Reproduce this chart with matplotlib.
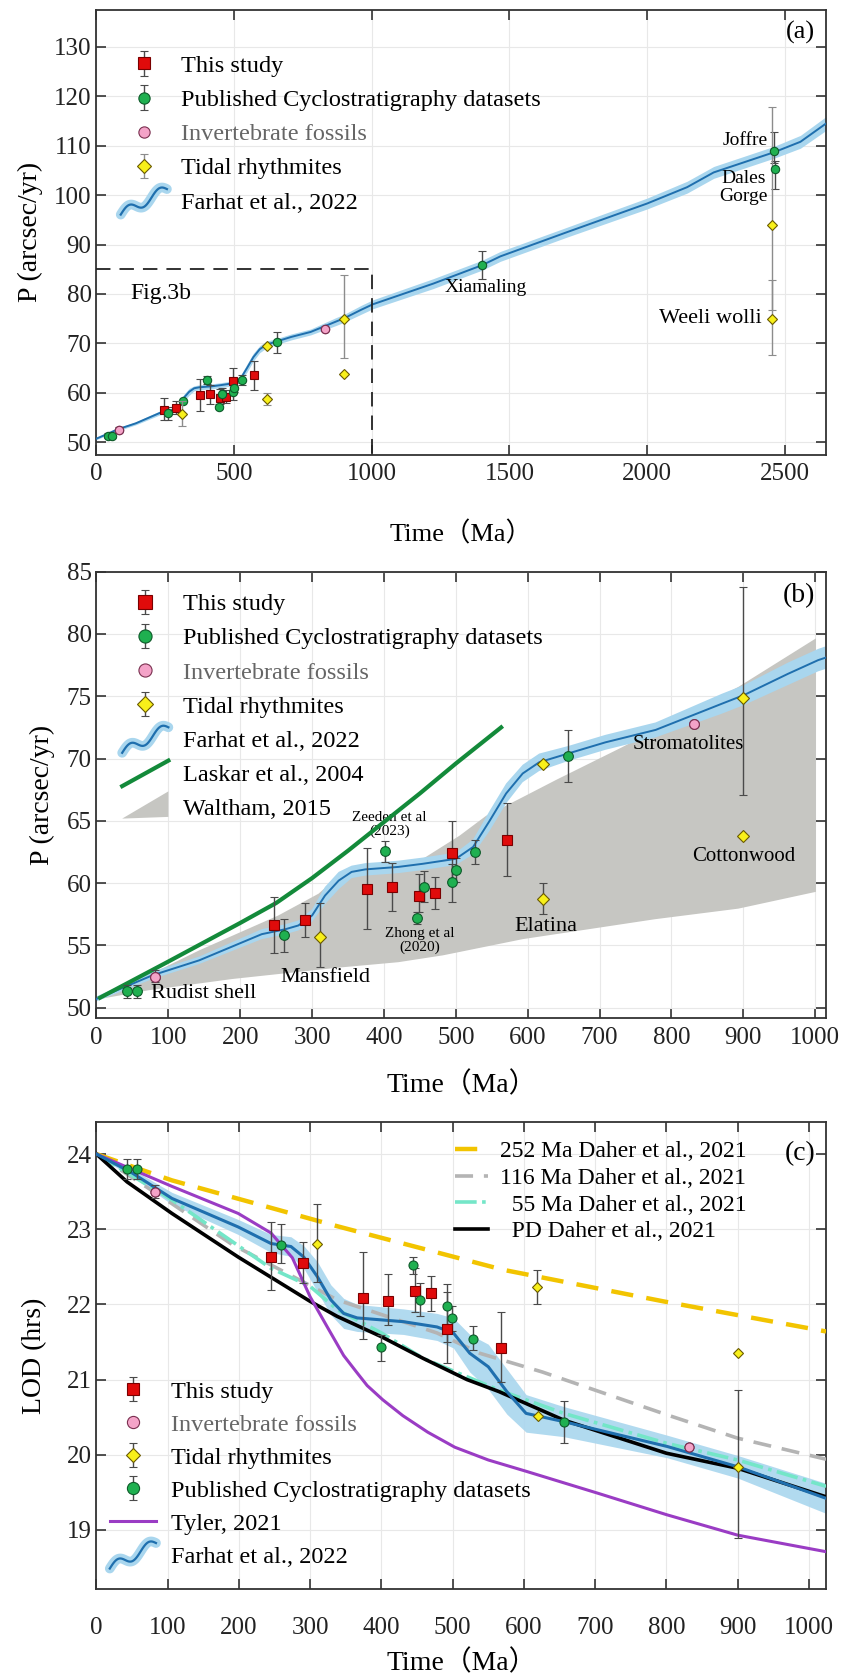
import numpy as np
import matplotlib
matplotlib.use('Agg')
import matplotlib.pyplot as plt
from matplotlib.lines import Line2D
from matplotlib.patches import Polygon
from matplotlib.legend_handler import HandlerBase

plt.rcParams['font.family'] = ['Liberation Serif', 'Noto Sans CJK SC']
plt.rcParams['axes.unicode_minus'] = False
nan = np.nan

# ---------------- precession constant P (arcsec/yr) ----------------
red_t = [246.5, 290.4, 376.6, 411, 449, 471, 494.5, 571]
red_p = [56.6, 57.0, 59.5, 59.7, 59.0, 59.2, 62.45, 63.5]
red_lo = [54.4, 55.7, 56.3, 57.8, 57.7, 57.9, 59.9, 60.6]
red_hi = [58.9, 58.4, 62.8, 61.6, 60.7, 60.5, 65.0, 66.4]

grn_t = [42.5, 56, 260.4, 402, 445.5, 456, 494.5, 500.9, 527, 656, 1402, 2462, 2466]
grn_p = [51.3, 51.3, 55.85, 62.55, 57.2, 59.7, 60.1, 61.05, 62.5, 70.2, 85.9, 108.9, 105.3]
grn_lo = [50.8, 50.8, 54.5, 61.7, 56.75, 58.5, 58.5, 60.1, 61.5, 68.1, 83.1, 106.6, 101.3]
grn_hi = [51.8, 51.8, 57.1, 63.4, 57.7, 61.0, 61.55, 62.0, 63.5, 72.3, 88.7, 112.8, 106.9]
grn_a_t = [315]      # only visible in panel (a)
grn_a_p = [58.3]

pink_t = [81, 831.5]
pink_p = [52.5, 72.8]
pink_lo = [52.1, nan]
pink_hi = [53.0, nan]

yel_t = [311, 621, 621, 900, 900, 2454, 2454]
yel_p = [55.7, 69.55, 58.75, 74.9, 63.8, 93.9, 75.0]
yel_lo = [53.25, nan, 57.5, 67.1, nan, 76.7, 67.7]
yel_hi = [58.4, nan, 60.0, 83.8, nan, 117.8, 82.75]

farhat_t = [0, 78, 143, 230, 263, 281, 300, 318, 337, 355, 374, 420, 454, 500, 524, 547,
            570, 593, 616, 656, 708, 778, 824, 870, 901, 962, 1004, 1224, 1400, 1467, 1709,
            2000, 2145, 2242, 2462, 2557, 2650]
farhat_p = [50.7, 52.6, 53.8, 55.9, 56.3, 56.6, 57.4, 59.0, 60.2, 60.9, 61.1, 61.3, 61.55, 61.95,
            62.9, 65.0, 67.2, 68.8, 69.7, 70.4, 71.3, 72.3, 73.35, 74.4, 75.1, 76.8, 77.9, 82.1,
            85.8, 87.6, 92.5, 98.3, 101.6, 104.6, 108.7, 110.8, 114.5]
farhat_err = [0.2, 0.3, 0.3, 0.4, 0.4, 0.4, 0.5, 0.7, 0.7, 0.5, 0.5, 0.5, 0.5, 0.5, 0.6, 0.8,
              0.8, 0.7, 0.7, 0.6, 0.6, 0.6, 0.7, 0.8, 0.8, 0.9, 0.9, 1.0, 1.0, 1.0, 1.0,
              1.1, 1.2, 1.2, 1.2, 1.3, 1.4]

laskar_t = [5, 100, 200, 250, 300, 350, 400, 450, 500, 563]
laskar_p = [50.8, 53.7, 56.8, 58.4, 60.4, 62.6, 64.9, 67.2, 69.6, 72.5]

walt_up_t = [5, 143, 253, 309, 337, 374, 420, 450, 505, 542, 593, 640, 731, 893, 1001]
walt_up_p = [50.7, 54.6, 57.4, 59.15, 60.6, 60.9, 61.3, 61.8, 63.8, 65.4, 66.9, 68.3, 70.9, 75.75, 79.65]
walt_lo_t = [5, 73, 189, 334, 420, 482, 593, 777, 893, 1001]
walt_lo_p = [50.7, 51.4, 52.3, 53.2, 53.65, 54.2, 55.5, 57.1, 57.95, 59.3]

# ---------------- length of day (hrs) ----------------
red_lod_t = [245, 290, 374, 409, 447, 469, 492, 568]
red_lod = [22.63, 22.55, 22.09, 22.05, 22.18, 22.15, 21.67, 21.42]
red_lod_lo = [22.19, 22.29, 21.54, 21.72, 21.90, 21.91, 21.22, 20.97]
red_lod_hi = [23.09, 22.83, 22.70, 22.40, 22.48, 22.38, 22.17, 21.90]

grn_lod_t = [43, 57, 259, 399.5, 444, 454, 491.5, 499, 528, 656]
grn_lod = [23.80, 23.80, 22.79, 21.43, 22.53, 22.06, 21.98, 21.82, 21.54, 20.43]
grn_lod_lo = [23.67, 23.67, 22.55, 21.25, 22.41, 21.84, 21.50, 21.64, 21.39, 20.15]
grn_lod_hi = [23.93, 23.93, 23.07, 21.59, 22.63, 22.29, 22.27, 21.98, 21.71, 20.72]

pink_lod_t = [82, 831]
pink_lod = [23.50, 20.10]
pink_lod_lo = [23.41, nan]
pink_lod_hi = [23.59, nan]

yel_lod_t = [309, 618, 620, 900, 900]
yel_lod = [22.81, 22.23, 20.52, 19.84, 21.36]
yel_lod_lo = [22.30, 22.00, nan, 18.89, nan]
yel_lod_hi = [23.34, 22.46, nan, 20.86, nan]

flod_t = [0, 50, 106, 199, 245, 273, 291, 310, 329, 347, 366, 431, 478, 501, 524, 550,
          576, 603, 656, 801, 900, 1024]
flod = [24.0, 23.75, 23.41, 23.03, 22.81, 22.77, 22.63, 22.37, 22.06, 21.88, 21.82, 21.77,
        21.70, 21.62, 21.35, 21.17, 20.84, 20.55, 20.44, 20.11, 19.84, 19.42]
flod_err = [0.02, 0.05, 0.08, 0.1, 0.12, 0.13, 0.15, 0.2, 0.2, 0.2, 0.18, 0.17, 0.18, 0.2,
            0.25, 0.3, 0.3, 0.25, 0.2, 0.15, 0.15, 0.2]

tyler_t = [0, 106, 199, 245, 275, 300, 324, 347, 365, 380, 402, 430, 465, 503, 550, 603,
           703, 801, 900, 1024]
tyler = [24.0, 23.57, 23.21, 22.95, 22.62, 22.10, 21.70, 21.32, 21.1, 20.92, 20.73, 20.52,
         20.30, 20.10, 19.93, 19.78, 19.49, 19.20, 18.93, 18.71]

d252_t = [0, 106, 338, 571, 796, 1024]
d252 = [24.0, 23.65, 23.04, 22.46, 22.04, 21.64]
d116_t = [0, 106, 190, 338, 478, 538, 626, 801, 900, 1024]
d116 = [24.0, 23.34, 22.8, 22.06, 21.62, 21.35, 21.1, 20.53, 20.22, 19.94]
d55_t = [0, 106, 245, 300, 338, 400, 459, 565, 656, 801, 900, 1024]
d55 = [24.0, 23.39, 22.48, 22.24, 21.93, 21.62, 21.28, 20.86, 20.55, 20.15, 19.93, 19.58]
dpd_t = [0, 43, 106, 199, 300, 338, 400, 459, 520, 565, 656, 800, 900, 1024]
dpd = [24.0, 23.63, 23.21, 22.63, 22.04, 21.84, 21.57, 21.28, 21.0, 20.84, 20.46, 20.02, 19.82, 19.44]

C_RED, C_GRN, C_PNK, C_YEL = '#e00b0b', '#1fb050', '#f4a3c8', '#f8f01a'
C_BLUE, C_BAND = '#1f6fae', '#a9d6ee'


class Glyph(HandlerBase):
    def __init__(self, kind, color=None):
        super().__init__()
        self.kind = kind
        self.color = color

    def create_artists(self, legend, orig, xd, yd, w, h, fs, trans):
        x0, y0 = -xd, -yd
        if self.kind == 'wave':
            s = np.linspace(0, 1, 40)
            x = x0 + w * s
            y = y0 + h * (-0.35 + 1.5 * s + 0.3 * np.sin(3 * np.pi * s))
            a = Line2D(x, y, lw=7, color=C_BAND, solid_capstyle='round', transform=trans)
            b = Line2D(x, y, lw=1.6, color=C_BLUE, transform=trans)
            return [a, b]
        if self.kind == 'slant':
            return [Line2D([x0, x0 + w], [y0 - 0.3 * h, y0 + 1.2 * h], lw=3,
                           color=self.color, transform=trans)]
        p = Polygon([[x0, y0 - 0.2 * h], [x0 + w, y0 + 1.4 * h], [x0 + w, y0 - 0.1 * h]],
                    closed=True, fc='#c6c6c2', ec='none', transform=trans)
        return [p]


def pts(ax, t, v, lo, hi, marker, color, ec, ms, ecol='#4a4a4a'):
    v = np.asarray(v, float)
    err = [v - np.asarray(lo, float), np.asarray(hi, float) - v]
    return ax.errorbar(t, v, yerr=err, fmt=marker, mfc=color, mec=ec, mew=0.8, ms=ms,
                       ecolor=ecol, elinewidth=1, capsize=3, capthick=1, zorder=6)


def style(ax, xlim, ylim, xt, yt, xpad=6):
    ax.set_xlim(*xlim)
    ax.set_ylim(*ylim)
    ax.set_xticks(xt)
    ax.set_yticks(yt)
    ax.grid(True, color='#e8e8e8', lw=0.8, zorder=0)
    ax.set_axisbelow(True)
    ax.tick_params(direction='in', top=True, right=True, length=7, width=1.1,
                   labelsize=18, colors='#222')
    ax.tick_params(axis='x', pad=xpad)
    for s in ax.spines.values():
        s.set_linewidth(1.3)
        s.set_color('#333')


fig = plt.figure(figsize=(8.48, 16.8), dpi=100)
ax1 = fig.add_axes([0.1137, 0.7292, 0.8604, 0.2649])
ax2 = fig.add_axes([0.1137, 0.3939, 0.8604, 0.2658])
ax3 = fig.add_axes([0.1137, 0.0540, 0.8604, 0.2783])

wave = Line2D([], [])
lask = Line2D([], [])
walt = Line2D([], [])
leg_kw = dict(frameon=False, fontsize=17.5, handlelength=1.9, handletextpad=0.6,
              borderaxespad=0.3, markerscale=1.35)

# ---------------- (a) ----------------
fb = np.asarray(farhat_p) - np.asarray(farhat_err)
ft = np.asarray(farhat_p) + np.asarray(farhat_err)
ax1.fill_between(farhat_t, fb, ft, color=C_BAND, lw=0, zorder=2)
ax1.plot(farhat_t, farhat_p, color=C_BLUE, lw=1.4, zorder=3)
ax1.plot([0, 1000, 1000], [85, 85, 40], color='#222', lw=1.3, ls=(0, (8, 5)), zorder=4)
r = pts(ax1, red_t, red_p, red_lo, red_hi, 's', C_RED, '#7a0000', 6)
g = pts(ax1, grn_t, grn_p, grn_lo, grn_hi, 'o', C_GRN, '#0e5a2a', 6)
ax1.plot(grn_a_t, grn_a_p, 'o', mfc=C_GRN, mec='#0e5a2a', mew=0.8, ms=6, zorder=6)
pk, = ax1.plot(pink_t, pink_p, 'o', mfc=C_PNK, mec='#7a3050', mew=0.8, ms=6, zorder=6)
pts(ax1, pink_t, pink_p, pink_lo, pink_hi, 'o', C_PNK, '#7a3050', 6)
y = pts(ax1, yel_t, yel_p, yel_lo, yel_hi, 'D', C_YEL, '#6a5a00', 5, ecol='#8c8c8c')
style(ax1, (0, 2650), (47.4, 137.5), range(0, 2501, 500), range(50, 131, 10))
ax1.set_xlabel('Time（Ma）', fontsize=19, labelpad=26)
ax1.set_ylabel('P (arcsec/yr)', fontsize=20, labelpad=8)
ax1.text(0.985, 0.975, '(a)', transform=ax1.transAxes, ha='right', va='top', fontsize=19)
ax1.text(122, 80, 'Fig.3b', fontsize=17, va='center')
ax1.text(1415, 81.3, 'Xiamaling', fontsize=14, ha='center', va='center')
ax1.text(2437, 111, 'Joffre', fontsize=14, ha='right', va='center')
ax1.text(2350, 101.6, 'Dales\nGorge', fontsize=14, ha='center', va='center', linespacing=1.1)
ax1.text(2417, 75, 'Weeli wolli', fontsize=16, ha='right', va='center')
l1 = ax1.legend([r, g, pk, y, wave],
                ['This study', 'Published Cyclostratigraphy datasets', 'Invertebrate fossils',
                 'Tidal rhythmites', 'Farhat et al., 2022'],
                handler_map={wave: Glyph('wave')}, loc='upper left',
                bbox_to_anchor=(0.01, 0.937), labelspacing=0.5, **leg_kw)
l1.get_texts()[2].set_color('#666666')

# ---------------- (b) ----------------
ax2.fill(np.r_[walt_up_t, walt_lo_t[::-1]], np.r_[walt_up_p, walt_lo_p[::-1]],
         color='#c6c6c2', lw=0, zorder=1)
ax2.fill_between(farhat_t, fb, ft, color=C_BAND, lw=0, zorder=2)
ax2.plot(farhat_t, farhat_p, color=C_BLUE, lw=1.4, zorder=3)
ax2.plot(laskar_t, laskar_p, color='#138a3a', lw=3, zorder=4)
r = pts(ax2, red_t, red_p, red_lo, red_hi, 's', C_RED, '#7a0000', 7)
g = pts(ax2, grn_t, grn_p, grn_lo, grn_hi, 'o', C_GRN, '#0e5a2a', 7)
pk, = ax2.plot(pink_t, pink_p, 'o', mfc=C_PNK, mec='#7a3050', mew=0.8, ms=7, zorder=6)
pts(ax2, pink_t, pink_p, pink_lo, pink_hi, 'o', C_PNK, '#7a3050', 7)
y = pts(ax2, yel_t, yel_p, yel_lo, yel_hi, 'D', C_YEL, '#6a5a00', 6)
style(ax2, (5.4, 1015), (49.15, 85), range(0, 1001, 100), range(50, 86, 5))
ax2.set_xlabel('Time（Ma）', fontsize=20, labelpad=17)
ax2.set_ylabel('P (arcsec/yr)', fontsize=20, labelpad=8)
ax2.text(0.985, 0.975, '(b)', transform=ax2.transAxes, ha='right', va='top', fontsize=20)
ax2.text(76, 51.1, 'Rudist shell', fontsize=16, va='center')
ax2.text(318, 52.4, 'Mansfield', fontsize=16, ha='center', va='center')
ax2.text(408, 64.7, 'Zeeden et al\n(2023)', fontsize=11, ha='center', va='center', linespacing=1.1)
ax2.text(450, 55.4, 'Zhong et al\n(2020)', fontsize=11, ha='center', va='center', linespacing=1.1)
ax2.text(625, 56.5, 'Elatina', fontsize=16, ha='center', va='center')
ax2.text(823, 71.15, 'Stromatolites', fontsize=15, ha='center', va='center')
ax2.text(900, 62.1, 'Cottonwood', fontsize=15, ha='center', va='center')
l2 = ax2.legend([r, g, pk, y, wave, lask, walt],
                ['This study', 'Published Cyclostratigraphy datasets', 'Invertebrate fossils',
                 'Tidal rhythmites', 'Farhat et al., 2022', 'Laskar et al., 2004', 'Waltham, 2015'],
                handler_map={wave: Glyph('wave'), lask: Glyph('slant', '#138a3a'),
                             walt: Glyph('wedge')},
                loc='upper left', bbox_to_anchor=(0.012, 0.99), labelspacing=0.5, **leg_kw)
l2.get_texts()[2].set_color('#666666')

# ---------------- (c) ----------------
fl = np.asarray(flod) - np.asarray(flod_err)
fh = np.asarray(flod) + np.asarray(flod_err)
ax3.fill_between(flod_t, fl, fh, color=C_BAND, alpha=0.9, lw=0, zorder=2)
ax3.plot(d252_t, d252, color='#f2c400', lw=3.2, ls=(0, (5, 3)), zorder=3,
         label='252 Ma Daher et al., 2021')
ax3.plot(d116_t, d116, color='#b4b4b4', lw=2.6, ls=(0, (5, 3)), zorder=3,
         label='116 Ma Daher et al., 2021')
ax3.plot(d55_t, d55, color='#74e6c8', lw=2.6, ls=(0, (6, 1.5, 1, 1.5)), zorder=3,
         label='  55 Ma Daher et al., 2021')
ax3.plot(dpd_t, dpd, color='black', lw=2.6, zorder=3, label='  PD Daher et al., 2021')
ty, = ax3.plot(tyler_t, tyler, color='#9a3cc4', lw=2.2, zorder=3)
ax3.plot(flod_t, flod, color=C_BLUE, lw=2.2, zorder=4)
r = pts(ax3, red_lod_t, red_lod, red_lod_lo, red_lod_hi, 's', C_RED, '#7a0000', 6.5)
g = pts(ax3, grn_lod_t, grn_lod, grn_lod_lo, grn_lod_hi, 'o', C_GRN, '#0e5a2a', 6.5)
pk, = ax3.plot(pink_lod_t, pink_lod, 'o', mfc=C_PNK, mec='#7a3050', mew=0.8, ms=6.5, zorder=6)
pts(ax3, pink_lod_t, pink_lod, pink_lod_lo, pink_lod_hi, 'o', C_PNK, '#7a3050', 6.5)
y = pts(ax3, yel_lod_t, yel_lod, yel_lod_lo, yel_lod_hi, 'D', C_YEL, '#6a5a00', 5.5)
style(ax3, (4, 1024), (18.21, 24.43), range(0, 1001, 100), range(19, 25), xpad=20)
ax3.set_xlabel('Time（Ma）', fontsize=20, labelpad=8)
ax3.set_ylabel('LOD (hrs)', fontsize=20, labelpad=14)
ax3.text(0.985, 0.931, '(c)', transform=ax3.transAxes, ha='right', va='center', fontsize=20)
l3 = ax3.legend(loc='upper right', bbox_to_anchor=(0.92, 1.005), frameon=False, fontsize=17,
                handlelength=1.4, handletextpad=0.5, labelspacing=0.22)
ax3.add_artist(l3)
l4 = ax3.legend([r, pk, y, g, ty, wave],
                ['This study', 'Invertebrate fossils', 'Tidal rhythmites',
                 'Published Cyclostratigraphy datasets', 'Tyler, 2021', 'Farhat et al., 2022'],
                handler_map={wave: Glyph('wave')}, loc='lower left',
                bbox_to_anchor=(-0.005, 0.01), labelspacing=0.45, **leg_kw)
l4.get_texts()[1].set_color('#666666')

fig.savefig('out.png', dpi=100)
